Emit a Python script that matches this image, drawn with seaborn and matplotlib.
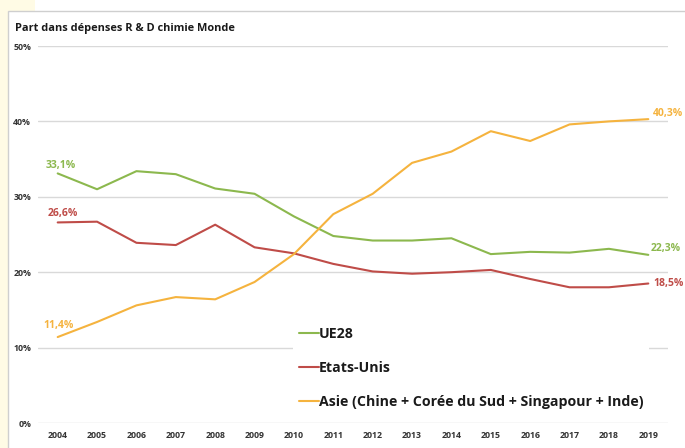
import pandas as pd
import numpy as np
import matplotlib
matplotlib.use('Agg')
import matplotlib.pyplot as plt
import seaborn as sns
from matplotlib.patches import Rectangle

# data (share of world chemical R&D spending, %)
years = list(range(2004, 2020))
ue28 = [33.1, 31.0, 33.4, 33.0, 31.1, 30.4, 27.4, 24.8, 24.2, 24.2, 24.5, 22.4, 22.7, 22.6, 23.1, 22.3]
usa = [26.6, 26.7, 23.9, 23.6, 26.3, 23.3, 22.5, 21.1, 20.1, 19.8, 20.0, 20.3, 19.1, 18.0, 18.0, 18.5]
asie = [11.4, 13.4, 15.6, 16.7, 16.4, 18.7, 22.4, 27.7, 30.4, 34.5, 36.0, 38.7, 37.4, 39.6, 40.0, 40.3]
zones = ['UE28', 'Etats-Unis', 'Asie (Chine + Corée du Sud + Singapour + Inde)']
colors = ['#8CB84E', '#BF4C48', '#F5B33E']
yticks = [0, 10, 20, 30, 40, 50]

df = pd.DataFrame({
    'Annee': years * 3,
    'Part': ue28 + usa + asie,
    'Zone': [zones[0]] * 16 + [zones[1]] * 16 + [zones[2]] * 16,
})

sns.set_style('white')
plt.rcParams['font.family'] = ['Open Sans', 'DejaVu Sans']

fig = plt.figure(figsize=(6.85, 4.48), dpi=100)
fig.patch.set_facecolor('white')
W, H = 685, 448

# cream page strip and chart frame
fig.patches.append(Rectangle((0, 0), 8 / W, 1, transform=fig.transFigure, facecolor='#FFFBE5', edgecolor='none', zorder=-10))
fig.patches.append(Rectangle((0, 1 - 11 / H), 35 / W, 11 / H, transform=fig.transFigure, facecolor='#FFFBE5', edgecolor='none', zorder=-10))
fig.patches.append(Rectangle((8 / W, -0.01), 1, 1 - 11 / H + 0.01, transform=fig.transFigure, facecolor='white', edgecolor='#CFCFCF', lw=1, zorder=-9))

ax = fig.add_axes([38 / W, 25 / H, 630 / W, 377 / H])
ax.set_facecolor('none')

sns.lineplot(data=df, x='Annee', y='Part', hue='Zone', palette=colors, linewidth=1.5, ax=ax)

ax.set_xlim(2003.5, 2019.5)
ax.set_ylim(0, 50)
ax.set_yticks(yticks)
ax.set_yticklabels([f'{t}%' for t in yticks])
ax.set_xticks(years)
ax.set_xticklabels([str(y) for y in years])
ax.grid(axis='y', color='#D9D9D9', lw=1)
ax.grid(axis='x', visible=False)
for s in ax.spines.values():
    s.set_visible(False)
ax.tick_params(length=0, labelsize=6.3, labelcolor='#333333')
for lab in ax.get_xticklabels() + ax.get_yticklabels():
    lab.set_fontweight('bold')
ax.tick_params(axis='y', pad=5)
ax.tick_params(axis='x', pad=6)
ax.set_xlabel('')
ax.set_ylabel('')

# value labels at both ends
ends = [
    (2004, ue28[0], '33,1%', colors[0], (3, 8), 'center'),
    (2004, usa[0], '26,6%', colors[1], (5, 9), 'center'),
    (2004, asie[0], '11,4%', colors[2], (1, 12), 'center'),
    (2019, asie[-1], '40,3%', colors[2], (5, 6), 'left'),
    (2019, ue28[-1], '22,3%', colors[0], (2, 6), 'left'),
    (2019, usa[-1], '18,5%', colors[1], (5, 0), 'left'),
]
for x, y, txt, c, off, ha in ends:
    ax.annotate(txt, (x, y), xytext=off, textcoords='offset pixels', ha=ha, va='center',
                color=c, fontsize=7.5, fontweight='bold', annotation_clip=False)

handles, labels = ax.get_legend_handles_labels()
leg = ax.legend(handles, labels, loc='upper left', bbox_to_anchor=(0.405, 0.27), borderaxespad=0,
                frameon=True, facecolor='white', edgecolor='none', framealpha=1,
                handlelength=1.4, handletextpad=0.0, labelspacing=1.4,
                prop={'weight': 'bold', 'size': 10.2})
for t in leg.get_texts():
    t.set_color('#1A1A1A')

fig.text(15 / W, 1 - 28 / H, 'Part dans dépenses R & D chimie Monde', fontsize=7.9,
         fontweight='bold', color='#1A1A1A', ha='left', va='center')

fig.savefig('out.png', dpi=100, facecolor=fig.get_facecolor())
